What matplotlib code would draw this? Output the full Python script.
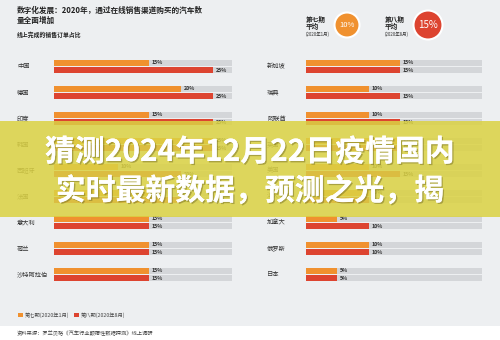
import matplotlib
matplotlib.use("Agg")
import matplotlib.pyplot as plt
import matplotlib.patheffects as pe
from matplotlib.patches import Rectangle, Ellipse, Patch

plt.rcParams['font.family'] = ['Noto Sans CJK SC', 'DejaVu Sans']

W, H = 500, 340

# data (percent of sales orders completed online)
left_countries = ["中国", "德国", "印度", "韩国", "西班牙", "法国", "意大利", "荷兰", "沙特阿拉伯"]
left_jan = [15, 20, 15, 25, 10, 15, 15, 15, 15]
left_aug = [25, 25, 25, 25, 20, 20, 15, 15, 15]

right_countries = ["新加坡", "瑞典", "阿联酋", "英国", "美国", "澳大利亚", "加拿大", "俄罗斯", "日本"]
right_jan = [15, 10, 10, 15, 10, 10, 5, 10, 5]
right_aug = [15, 15, 15, 15, 15, 10, 10, 10, 5]

avg_labels = ["第七期\n平均", "第八期\n平均"]
avg_dates = ["(2020年1月)", "(2020年8月)"]
avg_values = [10, 15]

series_names = ["第七期(2020年1月)", "第八期(2020年8月)"]
scale_max = 28

C_BG = "#edeff1"
C_TRACK = "#d4d6d9"
C_ORANGE = "#f0912f"
C_RED = "#dd4430"
C_TEXT = "#333333"


def fx(px):
    return px / W


def fy(py):
    return 1 - py / H


fig = plt.figure(figsize=(5, 3.4), dpi=100, facecolor=C_BG)

# bottom white strip with source
fig.add_artist(Rectangle((0, 0), 1, fy(326), transform=fig.transFigure,
                         facecolor="white", edgecolor="none", zorder=0))


def panel(x0, x1, label_x, countries, jan, aug):
    ax = fig.add_axes([fx(x0), fy(287.5), fx(x1 - x0), (287.5 - 53.5) / H])
    ax.set_xlim(0, scale_max)
    ax.set_ylim(len(countries) - 0.5, -0.5)
    ax.axis("off")
    ys = list(range(len(countries)))
    h = 0.23
    off = 0.135
    for y in ys:
        ax.barh(y - off, scale_max, height=h, color=C_TRACK, zorder=1)
        ax.barh(y + off, scale_max, height=h, color=C_TRACK, zorder=1)
    ax.barh([y - off for y in ys], jan, height=h, color=C_ORANGE, zorder=2)
    ax.barh([y + off for y in ys], aug, height=h, color=C_RED, zorder=2)
    for y, a, b in zip(ys, jan, aug):
        ax.text(a + 0.4, y - off, f"{a}%", fontsize=3.8, fontweight="bold",
                va="center", ha="left", color=C_TEXT, zorder=3)
        ax.text(b + 0.4, y + off, f"{b}%", fontsize=3.8, fontweight="bold",
                va="center", ha="left", color=C_TEXT, zorder=3)
    for y, name in zip(ys, countries):
        fig.text(fx(label_x), fy(66.5 + 26 * y), name, fontsize=4.5, color=C_TEXT,
                 va="center", ha="left")
    return ax


panel(54, 232, 17, left_countries, left_jan, left_aug)
panel(306, 482, 267, right_countries, right_jan, right_aug)

# title
fig.text(fx(17), fy(6), "数字化发展：2020年，通过在线销售渠道购买的汽车数\n量全面增加",
         fontsize=5.5, fontweight="bold", color="#222222", va="top", ha="left",
         linespacing=1.15)
fig.text(fx(17), fy(35), "线上完成的销售订单占比", fontsize=4.2, fontweight="bold",
         color="#222222", va="center", ha="left")

# averages
for lx, cx, r, lab, d, v, col, fs in zip([306, 385], [347, 428], [12.5, 14.5],
                                         avg_labels, avg_dates, avg_values,
                                         [C_ORANGE, C_RED], [5.5, 7]):
    fig.text(fx(lx), fy(23), lab, fontsize=4.8, fontweight="bold", color="#222222",
             va="center", ha="left", linespacing=1.05)
    fig.text(fx(lx), fy(34), d, fontsize=3.2, color="#333333", va="center", ha="left")
    fig.add_artist(Ellipse((fx(cx), fy(25)), 2 * r / W, 2 * r / H,
                           transform=fig.transFigure, facecolor=col,
                           edgecolor="white", linewidth=1.5))
    fig.text(fx(cx), fy(25), f"{v}%", fontsize=fs, color="white",
             va="center", ha="center")

# legend
handles = [Patch(facecolor=C_ORANGE), Patch(facecolor=C_RED)]
fig.legend(handles, series_names, loc="center left",
           bbox_to_anchor=(fx(13), fy(315)), ncol=2, frameon=False,
           fontsize=3.8, handlelength=0.9, handleheight=0.9,
           handletextpad=0.4, columnspacing=1.0, labelcolor="#444444")

fig.text(fx(17), fy(333), "资料来源：罗兰贝格《汽车行业颠覆性数据探测》线上调研",
         fontsize=3.8, color="#444444", va="center", ha="left")

# yellow banner overlay
fig.add_artist(Rectangle((0, fy(217)), 1, (217 - 121) / H, transform=fig.transFigure,
                         facecolor="#dbd244", edgecolor="none", alpha=0.86, zorder=10))
for txt, yy in [("猜测2024年12月22日疫情国内", 152), ("实时最新数据，预测之光，揭", 191)]:
    t = fig.text(0.5, fy(yy), txt, fontsize=21.5, fontweight="bold", color="white",
                 va="center", ha="center", zorder=11)
    t.set_path_effects([pe.withSimplePatchShadow(offset=(1, -1), shadow_rgbFace="#6b6420",
                                                 alpha=0.45),
                        pe.Normal()])

fig.savefig("out.png", dpi=100, facecolor=fig.get_facecolor())
